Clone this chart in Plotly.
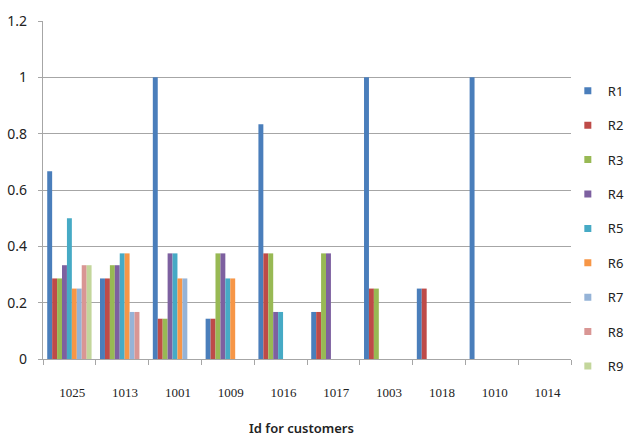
import plotly.graph_objects as go

customer_ids = ["1025", "1013", "1001", "1009", "1016", "1017", "1003", "1018", "1010", "1014"]
series_names = ["R1", "R2", "R3", "R4", "R5", "R6", "R7", "R8", "R9"]

R1 = [0.667, 0.286, 1.0, 0.143, 0.833, 0.167, 1.0, 0.25, 1.0, 0]
R2 = [0.286, 0.286, 0.143, 0.143, 0.375, 0.167, 0.25, 0.25, 0, 0]
R3 = [0.286, 0.333, 0.143, 0.375, 0.375, 0.375, 0.25, 0, 0, 0]
R4 = [0.333, 0.333, 0.375, 0.375, 0.167, 0.375, 0, 0, 0, 0]
R5 = [0.5, 0.375, 0.375, 0.286, 0.167, 0, 0, 0, 0, 0]
R6 = [0.25, 0.375, 0.286, 0.286, 0, 0, 0, 0, 0, 0]
R7 = [0.25, 0.167, 0.286, 0, 0, 0, 0, 0, 0, 0]
R8 = [0.333, 0.167, 0, 0, 0, 0, 0, 0, 0, 0]
R9 = [0.333, 0, 0, 0, 0, 0, 0, 0, 0, 0]
series_values = [R1, R2, R3, R4, R5, R6, R7, R8, R9]

colors = ["#4A7EBB", "#BE4B48", "#98B954", "#7D60A0", "#46AAC5",
          "#F79646", "#95B3D7", "#D99694", "#C3D69B"]

y_ticks = [0, 0.2, 0.4, 0.6, 0.8, 1, 1.2]

fig = go.Figure()
for name, vals, col in zip(series_names, series_values, colors):
    fig.add_trace(go.Bar(x=customer_ids, y=vals, name=name, marker_color=col,
                         marker_line_width=0, showlegend=False))
# legend-only entries with small square swatches
for name, col in zip(series_names, colors):
    fig.add_trace(go.Scatter(x=[None], y=[None], mode="markers", name=name,
                             legendgroup=name,
                             marker=dict(symbol="square", size=7, color=col)))
# label axis (slightly compressed spacing, as in the reference)
fig.add_trace(go.Scatter(x=list(range(len(customer_ids))), y=[0] * len(customer_ids),
                         xaxis="x2", mode="markers", marker=dict(opacity=0),
                         showlegend=False, hoverinfo="skip"))

grid = "#A6A6A6"
fig.update_layout(
    width=629, height=440,
    margin=dict(l=43, r=58, t=21, b=81, autoexpand=False),
    paper_bgcolor="white", plot_bgcolor="white",
    barmode="group", bargap=0.16, bargroupgap=0,
    font=dict(family="Noto Sans", size=14, color="#222222"),
    xaxis=dict(type="category", showticklabels=False, ticks="outside", ticklen=5,
               tickcolor=grid, tickson="boundaries", showline=True, linecolor=grid,
               linewidth=1.3, showgrid=False, range=[-0.5, 9.5], automargin=False),
    xaxis2=dict(overlaying="x", anchor="y", side="bottom", domain=[0, 0.966],
                range=[-0.555, 9.445], tickmode="array",
                tickvals=list(range(len(customer_ids))), ticktext=customer_ids,
                ticks="", showline=False, showgrid=False, zeroline=False,
                ticklabelstandoff=24, automargin=False,
                tickfont=dict(family="Liberation Serif", size=13, color="#222222")),
    yaxis=dict(range=[0, 1.2], tickmode="array", tickvals=y_ticks,
               showgrid=True, gridcolor=grid, gridwidth=1.3, zeroline=False,
               showline=True, linecolor=grid, linewidth=1.3, automargin=False,
               ticks="outside", ticklen=4, tickcolor=grid, ticklabelstandoff=8,
               tickfont=dict(size=14, color="#222222")),
    legend=dict(x=0.994, xanchor="left", y=0.385, yanchor="middle",
                tracegroupgap=14.5, bgcolor="rgba(0,0,0,0)",
                font=dict(size=13, color="#222222")),
    annotations=[dict(text="Id for customers", xref="paper", yref="paper",
                      x=0.49, y=-0.204, xanchor="center", yanchor="middle",
                      showarrow=False,
                      font=dict(family="Noto Sans", size=13, color="#222222",
                                weight=600))],
)

fig.write_html("out.html")
